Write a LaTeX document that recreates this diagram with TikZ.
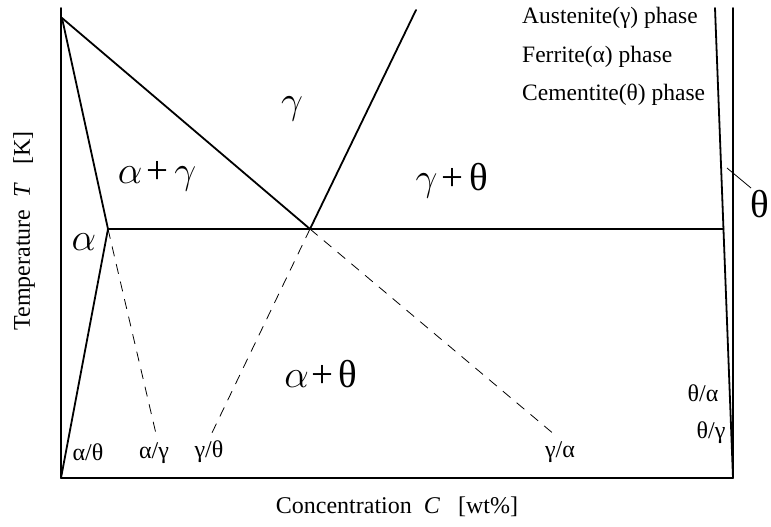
\RequirePackage{fix-cm}
\documentclass[tikz,border=0pt]{standalone}
\usepackage{fontspec}
\setmainfont{Liberation Serif}
\begin{document}
\begin{tikzpicture}[x=1pt,y=-1pt,
  phaseline/.style={line width=1.8pt, line cap=round, line join=round},
  metaline/.style={line width=0.8pt, dash pattern=on 10pt off 8pt},
  thinline/.style={line width=0.8pt},
  big/.style={font=\fontsize{39}{43}\selectfont, inner sep=0pt},
  small/.style={font=\fontsize{24}{27}\selectfont, inner sep=0pt},
  legend/.style={font=\fontsize{23.5}{27}\selectfont, inner sep=0pt, anchor=base west},
  axislabel/.style={font=\fontsize{24}{27}\selectfont, inner sep=0pt}]
\useasboundingbox (0,0) rectangle (771,527);
% key points
\coordinate (axtop) at (61,8);
\coordinate (O) at (61,478);
\coordinate (xend) at (733,478);
\coordinate (rtop) at (733,8);
\coordinate (stop) at (715,8);
\coordinate (A) at (62,18);
\coordinate (B) at (108,229);
\coordinate (E) at (310,229);
\coordinate (G) at (416,10);
\coordinate (H) at (723.5,229);
\coordinate (Bd) at (157,438);
\coordinate (Ed1) at (210,437);
\coordinate (Ed2) at (555,435);
\coordinate (tl1) at (727,168);
\coordinate (tl2) at (751,188);
% axes and frame
\draw[phaseline] (axtop) -- (O) -- (xend) -- (rtop);
% phase boundaries
\draw[phaseline] (stop) -- (xend);
\draw[phaseline] (A) -- (B) -- (O);
\draw[phaseline] (A) -- (E);
\draw[phaseline] (E) -- (G);
\draw[phaseline] (B) -- (H);
% metastable extensions
\draw[metaline] (B) -- (Bd);
\draw[metaline] (E) -- (Ed1);
\draw[metaline] (E) -- (Ed2);
\draw[thinline] (tl1) -- (tl2);
% legend
\node[legend] (leg1) at (522,23.5) {Austenite(γ) phase};
\node[legend] (leg2) at (522,62.5) {Ferrite(α) phase};
\node[legend] (leg3) at (522,100.5) {Cementite(θ) phase};
% region labels
\node[big] (lg) at (292,109) {$\gamma$};
\node[big] (lag) at (157,176) {$\alpha$\kern4pt+\kern6pt$\gamma$};
\node[big] (lgt) at (452,181) {$\gamma$\kern4pt+\kern6ptθ};
\node[big] (la) at (84,242) {$\alpha$};
\node[big] (lat) at (321,374) {$\alpha$\kern3pt+\kern5ptθ};
\node[big] (lt) at (760,204) {θ};
% boundary labels
\node[small] (s1) at (88,452) {α/θ};
\node[small] (s2) at (154,453) {α/γ};
\node[small] (s3) at (209,452) {γ/θ};
\node[small] (s4) at (560,452) {γ/α};
\node[small] (s5) at (703,393) {θ/α};
\node[small] (s6) at (711,433) {θ/γ};
% axis labels
\node[axislabel] (xl) at (397,507) {Concentration\enspace\textit{C}\hspace{0.75em}[wt\%]};
\node[axislabel, rotate=90] (yl) at (24,231) {Temperature\enspace\textit{T}\hspace{0.75em}[K]};
\end{tikzpicture}
\end{document}
